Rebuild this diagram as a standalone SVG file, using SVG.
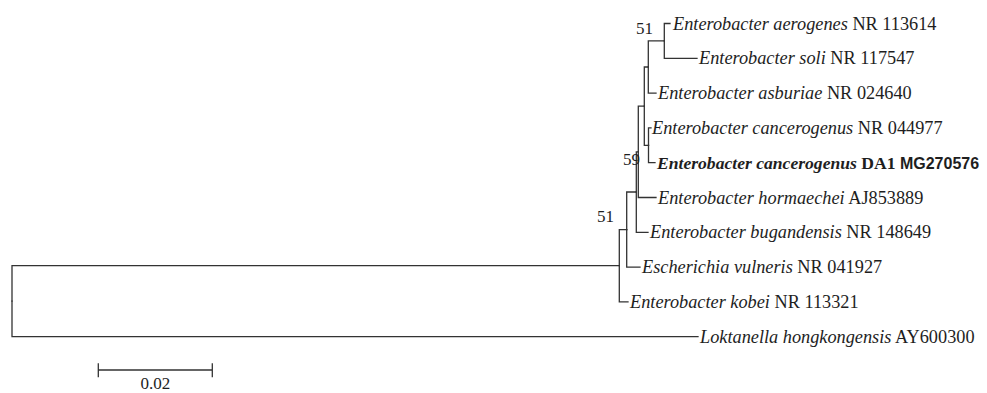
<svg xmlns="http://www.w3.org/2000/svg" width="987" height="393" viewBox="0 0 987 393">
<style>
.br{fill:none;stroke:#333;stroke-width:1.3;stroke-linecap:square}
.t{font-family:"Liberation Serif","Times New Roman",serif;font-size:18.3px;fill:#1e1e1e}
.i{font-style:italic}
.b{font-weight:bold;font-size:17.6px}
.bs{font-family:"Liberation Sans",Arial,sans-serif;font-weight:bold;font-size:16px}
.bp{font-family:"Liberation Serif","Times New Roman",serif;font-size:17px;fill:#1e1e1e}
</style>
<rect width="987" height="393" fill="#fff"/>
<g id="connectors">
<path class="br" d="M12,301.2V265.7H619.3"/>
<path class="br" d="M12,301.2V336.7H698"/>
<path class="br" d="M619.3,265.7V229.6H626.7"/>
<path class="br" d="M619.3,265.7V301.9H628"/>
<path class="br" d="M626.7,229.6V192H636.3"/>
<path class="br" d="M626.7,229.6V267.1H640"/>
<path class="br" d="M636.3,192V151.8H638.3"/>
<path class="br" d="M636.3,192V232.3H648"/>
<path class="br" d="M638.3,151.8V106.2H644.3"/>
<path class="br" d="M638.3,151.8V197.5H656"/>
<path class="br" d="M644.3,106.2V67H648.3"/>
<path class="br" d="M644.3,106.2V145.3H648.5"/>
<path class="br" d="M648.3,67V40.9H664.3"/>
<path class="br" d="M648.3,67V93.1H656"/>
<path class="br" d="M648.5,145.3V127.9H651"/>
<path class="br" d="M648.5,145.3V162.7H655"/>
<path class="br" d="M664.3,40.9V23.5H670"/>
<path class="br" d="M664.3,40.9V58.3H697"/>
</g>
<g id="leaf-aerogenes"><text class="t" x="673" y="29.5"><tspan class="i">Enterobacter aerogenes</tspan> NR 113614</text></g>
<g id="leaf-soli"><text class="t" x="699" y="64.3"><tspan class="i">Enterobacter soli</tspan> NR 117547</text></g>
<g id="leaf-asburiae"><text class="t" x="658" y="99.1"><tspan class="i">Enterobacter asburiae</tspan> NR 024640</text></g>
<g id="leaf-cancerogenus-nr"><text class="t" x="652" y="133.9"><tspan class="i">Enterobacter cancerogenus</tspan> NR 044977</text></g>
<g id="leaf-cancerogenus-da1"><text class="t b" x="657" y="168.7"><tspan class="i">Enterobacter cancerogenus</tspan> DA1 <tspan class="bs">MG270576</tspan></text></g>
<g id="leaf-hormaechei"><text class="t" x="658" y="203.5"><tspan class="i">Enterobacter hormaechei</tspan> AJ853889</text></g>
<g id="leaf-bugandensis"><text class="t" x="650" y="238.3"><tspan class="i">Enterobacter bugandensis</tspan> NR 148649</text></g>
<g id="leaf-escherichia"><text class="t" x="642" y="273.1"><tspan class="i">Escherichia vulneris</tspan> NR 041927</text></g>
<g id="leaf-kobei"><text class="t" x="630" y="307.9"><tspan class="i">Enterobacter kobei</tspan> NR 113321</text></g>
<g id="leaf-loktanella"><text class="t" x="700" y="342.7"><tspan class="i">Loktanella hongkongensis</tspan> AY600300</text></g>
<g id="bootstrap">
<text class="bp" x="636" y="33.5">51</text>
<text class="bp" x="623" y="165">59</text>
<text class="bp" x="597" y="222">51</text>
</g>
<g id="scale-bar">
<path class="br" d="M98.3,370H212.3M98.3,364V376.5M212.3,364V376.5"/>
<text class="bp" x="155.3" y="389" text-anchor="middle">0.02</text>
</g>
</svg>
